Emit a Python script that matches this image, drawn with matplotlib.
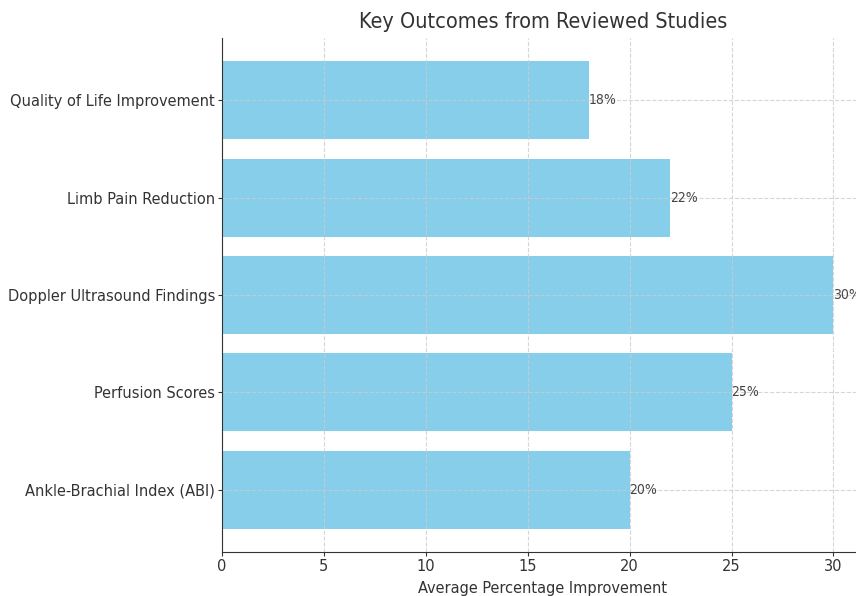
import matplotlib.pyplot as plt

outcomes = ["Ankle-Brachial Index (ABI)", "Perfusion Scores",
            "Doppler Ultrasound Findings", "Limb Pain Reduction",
            "Quality of Life Improvement"]
improvement = [20, 25, 30, 22, 18]

plt.rcParams["font.family"] = ["DejaVu Sans"]
plt.rcParams["font.stretch"] = "condensed"

fig = plt.figure(figsize=(8.56, 5.96), dpi=100)
ax = fig.add_axes([222 / 856, 44 / 596, 642 / 856, 514 / 596])

bars = ax.barh(outcomes, improvement, color="skyblue")
for b, v in zip(bars, improvement):
    ax.text(b.get_width(), b.get_y() + b.get_height() / 2, f"{v}%",
            va="center", ha="left", fontsize=10, color="#444444")

ax.set_axisbelow(False)
ax.grid(True, linestyle="--", color="#cccccc", linewidth=0.8, alpha=0.8)
ax.spines["top"].set_visible(False)
ax.spines["right"].set_visible(False)
for s in ("left", "bottom"):
    ax.spines[s].set_zorder(5)
    ax.spines[s].set_color("#333333")
ax.tick_params(labelsize=11.7, colors="#333333", length=3, pad=2)
ax.set_xlabel("Average Percentage Improvement", fontsize=11.7,
              color="#333333", labelpad=5)
ax.set_title("Key Outcomes from Reviewed Studies", fontsize=15.5,
             color="#333333", pad=7)

fig.savefig("out.png", dpi=100)
